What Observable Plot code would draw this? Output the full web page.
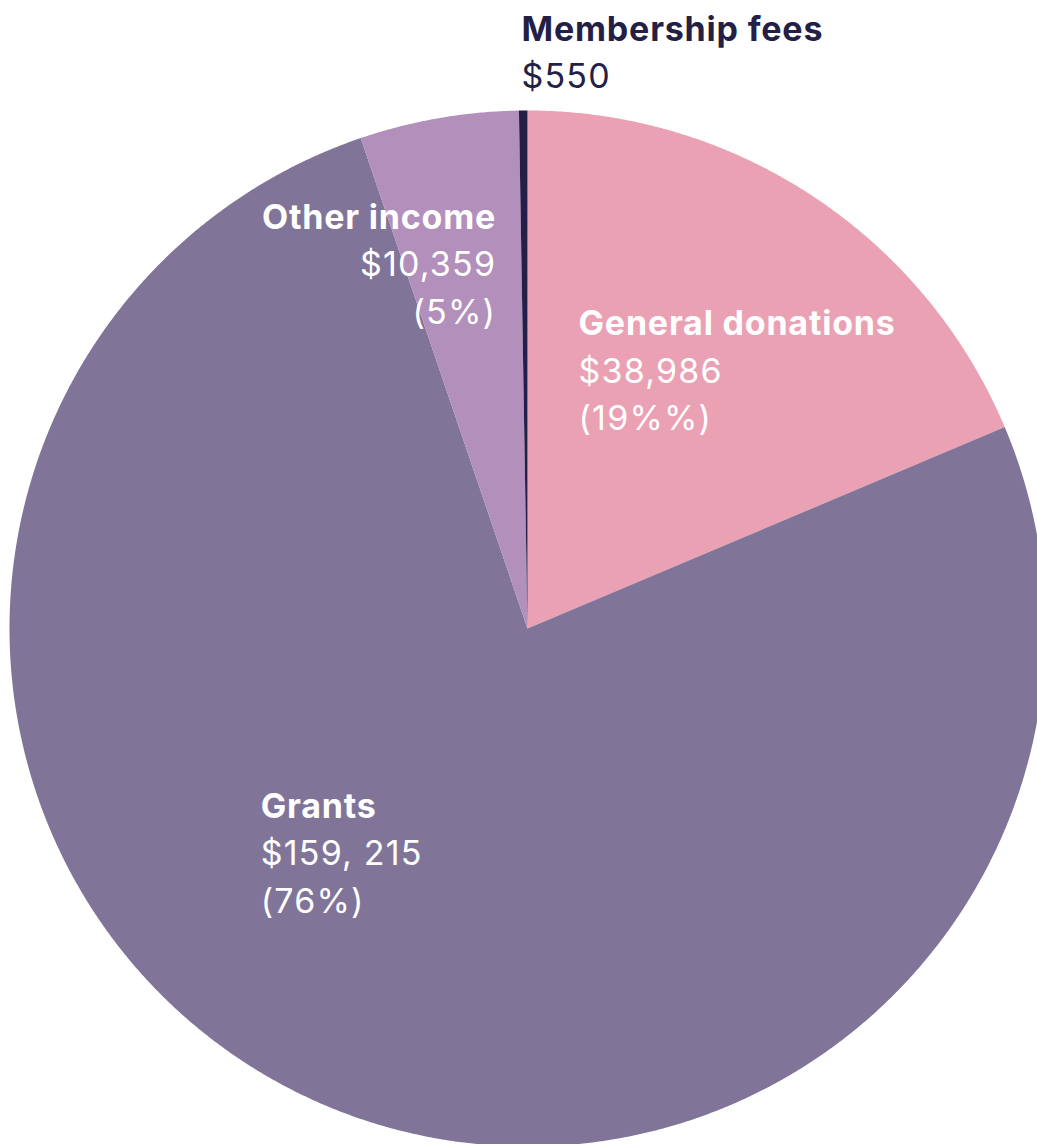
<!DOCTYPE html>
<html>
<head>
<meta charset="utf-8">
<script src="https://cdn.jsdelivr.net/npm/d3@7"></script>
<script src="https://cdn.jsdelivr.net/npm/@observablehq/plot@0.6"></script>
<style>
  html, body { margin: 0; padding: 0; background: #ffffff; }
  #chart svg { display: block; }
</style>
</head>
<body>
<div id="chart"></div>
<script>
// ---- data ----
const categories = ["General donations", "Grants", "Other income", "Membership fees"];
const amounts = [38986, 159215, 10359, 550];
const amountLabels = ["$38,986", "$159, 215", "$10,359", "$550"];
const percentLabels = ["(19%%)", "(76%)", "(5%)", ""];
const colors = ["#EBA1B4", "#807599", "#B38FBC", "#231F48"];

// ---- layout ----
const W = 1037, H = 1144;
const cx = 527, cy = 628, R = 518;

const table = categories.map((c, i) => ({category: c, value: amounts[i]}));
const arcs = d3.pie().sort(null).value(d => d.value)(table);

// polygon vertices of each slice on the unit circle
const slicePts = [];
for (const a of arcs) {
  const c = a.data.category;
  slicePts.push({category: c, x: 0, y: 0});
  const n = Math.max(2, Math.ceil((a.endAngle - a.startAngle) / (Math.PI / 720)));
  for (let k = 0; k <= n; k++) {
    const t = a.startAngle + (a.endAngle - a.startAngle) * k / n;
    slicePts.push({category: c, x: Math.sin(t), y: Math.cos(t)});
  }
}

// label anchors (unit-circle coordinates relative to centre)
const labelAnchor = {
  "General donations": {x: 0.0985, y: 0.566, anchor: "start", fill: "white"},
  "Grants": {x: -0.515, y: -0.365, anchor: "start", fill: "white"},
  "Other income": {x: -0.0605, y: 0.772, anchor: "end", fill: "white"},
  "Membership fees": {x: -0.0116, y: 1.135, anchor: "start", fill: "#231F46"}
};
const step = 47.5 / R;
const labelRows = [];
categories.forEach((c, i) => {
  const L = labelAnchor[c];
  const lines = [c, amountLabels[i], percentLabels[i]];
  lines.forEach((t, j) => {
    if (!t) return;
    labelRows.push({text: t, bold: j === 0, x: L.x, y: L.y - j * step, anchor: L.anchor, fill: L.fill});
  });
});

const fontFamily = "Inter, 'Noto Sans', sans-serif";

const plot = Plot.plot({
  width: W,
  height: H,
  margin: 0,
  style: {background: "white", fontFamily},
  x: {domain: [-cx / R, (W - cx) / R], range: [0, W], axis: null},
  y: {domain: [-(H - cy) / R, cy / R], range: [H, 0], axis: null},
  color: {domain: categories, range: colors},
  marks: [
    Plot.line(slicePts, {x: "x", y: "y", z: "category", fill: "category", stroke: "none", curve: "linear-closed"}),
    ...["start", "end"].flatMap(anc => [
      Plot.text(labelRows.filter(d => d.bold && d.anchor === anc), {
        x: "x", y: "y", text: "text", textAnchor: anc, lineAnchor: "bottom",
        fill: d => d.fill, fontSize: 34, fontWeight: 700
      }),
      Plot.text(labelRows.filter(d => !d.bold && d.anchor === anc), {
        x: "x", y: "y", text: "text", textAnchor: anc, lineAnchor: "bottom",
        fill: d => d.fill, fontSize: 34, fontWeight: 400
      })
    ])
  ]
});
// widen letter spacing to match the reference typeface
d3.select(plot).selectAll("g[aria-label='text']").each(function () {
  const g = d3.select(this);
  g.style("letter-spacing", g.attr("font-weight") === "700" ? "0.8px" : "1.2px");
});
document.getElementById("chart").appendChild(plot);
</script>
</body>
</html>
